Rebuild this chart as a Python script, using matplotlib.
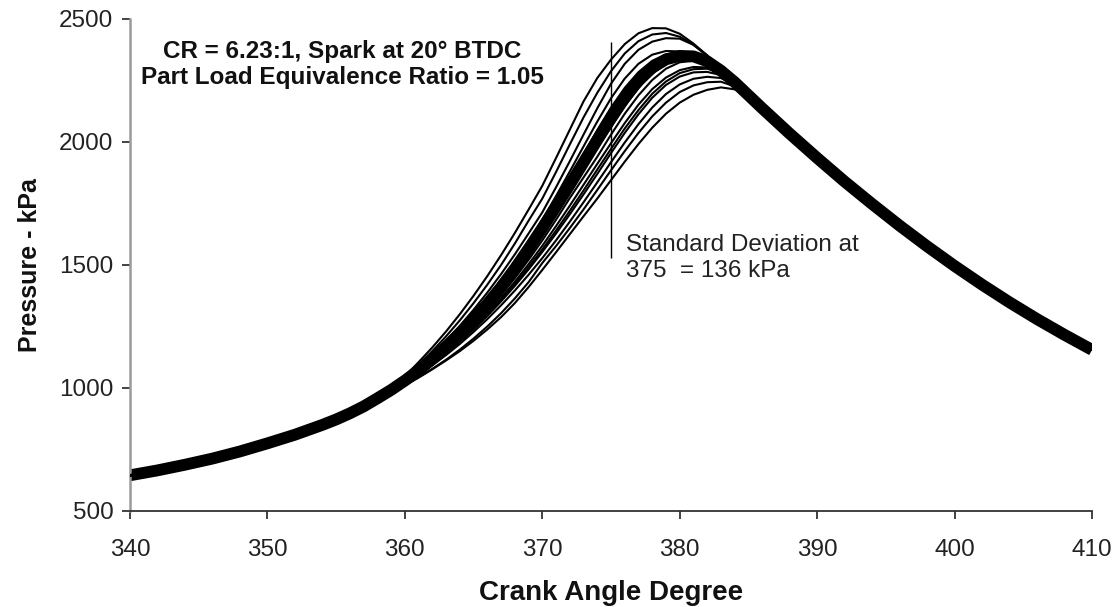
import matplotlib
matplotlib.use("Agg")
import matplotlib.pyplot as plt

# ---------------- data ----------------
angles_compression = [340, 342, 344, 346, 348, 350, 352, 354, 355, 356, 357]
p_compression = [645, 665, 688, 713, 742, 775, 810, 850, 872, 897, 925]

angles_combustion = [358, 359, 360, 361, 362, 363, 364, 365, 366, 367,
                     368, 369, 370, 371, 372, 373, 374, 375, 376, 377,
                     378, 379, 380, 381, 382, 383, 384, 385, 386]

p_cycle01 = [966, 1005, 1048, 1105, 1165, 1230, 1300, 1375, 1455, 1540, 1630, 1725, 1822, 1935, 2050,
             2165, 2260, 2335, 2398, 2442, 2463, 2462, 2440, 2400, 2352, 2298, 2245, 2190, 2137]
p_cycle02 = [964, 1002, 1042, 1095, 1150, 1210, 1275, 1345, 1420, 1500, 1587, 1680, 1770, 1878, 1990,
             2100, 2200, 2288, 2360, 2410, 2437, 2443, 2428, 2395, 2350, 2297, 2245, 2190, 2137]
p_cycle03 = [962, 999, 1038, 1088, 1138, 1193, 1253, 1318, 1388, 1463, 1543, 1628, 1714, 1816, 1922,
             2030, 2137, 2237, 2318, 2375, 2408, 2422, 2420, 2395, 2352, 2298, 2245, 2190, 2137]
p_cycle04 = [961, 996, 1034, 1076, 1122, 1172, 1228, 1289, 1356, 1429, 1508, 1593, 1684, 1780, 1880,
             1982, 2083, 2178, 2258, 2318, 2355, 2370, 2368, 2352, 2330, 2292, 2244, 2190, 2137]
p_cycle05 = [961, 998, 1038, 1082, 1130, 1182, 1240, 1302, 1368, 1438, 1512, 1590, 1672, 1760, 1852,
             1948, 2045, 2135, 2215, 2280, 2327, 2355, 2364, 2356, 2332, 2292, 2244, 2190, 2137]
p_cycle06 = [960, 994, 1032, 1073, 1118, 1168, 1222, 1282, 1347, 1417, 1493, 1575, 1663, 1756, 1853,
             1951, 2048, 2140, 2220, 2284, 2330, 2356, 2362, 2352, 2330, 2292, 2244, 2190, 2137]
p_cycle07 = [958, 992, 1030, 1072, 1118, 1168, 1222, 1280, 1342, 1410, 1485, 1566, 1650, 1737, 1826,
             1917, 2008, 2098, 2180, 2250, 2302, 2336, 2350, 2348, 2328, 2290, 2243, 2190, 2137]
p_cycle08 = [957, 989, 1025, 1065, 1108, 1156, 1208, 1266, 1330, 1400, 1476, 1558, 1645, 1735, 1826,
             1915, 2000, 2080, 2160, 2232, 2290, 2330, 2352, 2358, 2340, 2298, 2246, 2190, 2137]
p_cycle09 = [958, 990, 1026, 1066, 1110, 1157, 1209, 1265, 1326, 1392, 1463, 1540, 1623, 1711, 1800,
             1890, 1977, 2060, 2145, 2220, 2278, 2318, 2340, 2342, 2326, 2290, 2243, 2190, 2137]
p_cycle10 = [957, 988, 1023, 1062, 1104, 1150, 1200, 1255, 1314, 1378, 1447, 1521, 1600, 1684, 1772,
             1856, 1940, 2030, 2115, 2190, 2252, 2298, 2324, 2330, 2318, 2287, 2242, 2190, 2137]
p_cycle11 = [956, 987, 1021, 1059, 1100, 1145, 1194, 1247, 1304, 1366, 1432, 1503, 1578, 1658, 1741,
             1826, 1911, 1995, 2077, 2152, 2215, 2262, 2292, 2305, 2303, 2282, 2240, 2190, 2137]
p_cycle12 = [956, 986, 1020, 1058, 1099, 1143, 1191, 1243, 1299, 1359, 1423, 1491, 1563, 1640, 1720,
             1803, 1888, 1972, 2055, 2130, 2196, 2246, 2280, 2296, 2298, 2280, 2240, 2190, 2137]
p_cycle13 = [955, 985, 1019, 1056, 1096, 1140, 1187, 1238, 1293, 1352, 1415, 1482, 1553, 1628, 1706,
             1787, 1870, 1955, 2037, 2113, 2180, 2232, 2266, 2283, 2285, 2272, 2237, 2190, 2137]
p_cycle14 = [954, 984, 1017, 1053, 1092, 1134, 1179, 1228, 1280, 1336, 1396, 1460, 1528, 1600, 1676,
             1755, 1836, 1918, 1998, 2073, 2140, 2195, 2234, 2257, 2265, 2260, 2232, 2190, 2137]
p_cycle15 = [953, 983, 1012, 1044, 1078, 1115, 1156, 1201, 1250, 1304, 1364, 1430, 1508, 1577, 1650,
             1726, 1805, 1885, 1963, 2037, 2104, 2160, 2203, 2230, 2243, 2245, 2226, 2190, 2137]
p_cycle16 = [953, 982, 1010, 1042, 1076, 1112, 1150, 1192, 1238, 1288, 1345, 1410, 1480, 1552, 1625,
             1698, 1770, 1845, 1920, 1992, 2058, 2115, 2160, 2192, 2212, 2222, 2214, 2190, 2137]

angles_expansion = [388, 390, 392, 394, 396, 398, 400, 402, 404, 406, 408, 410]
p_expansion = [2034, 1935, 1839, 1748, 1660, 1576, 1496, 1420, 1348, 1280, 1216, 1155]

cycles = [p_cycle01, p_cycle02, p_cycle03, p_cycle04, p_cycle05, p_cycle06, p_cycle07, p_cycle08,
          p_cycle09, p_cycle10, p_cycle11, p_cycle12, p_cycle13, p_cycle14, p_cycle15, p_cycle16]
mean_cycle = p_cycle07

sd_angle = 375
sd_line_range = [1529, 2406]

x_ticks = [340, 350, 360, 370, 380, 390, 400, 410]
y_ticks = [500, 1000, 1500, 2000, 2500]

# ---------------- plot ----------------
plt.rcParams['font.family'] = ['Liberation Sans', 'DejaVu Sans']

fig = plt.figure(figsize=(11.15, 6.07), dpi=100)
ax = fig.add_axes([0.1166, 0.1582, 0.8628, 0.8105])

full_angles = angles_compression + angles_combustion + angles_expansion

# mean cycle drawn as a heavy band (dense markers in the original)
ax.plot(full_angles, p_compression + mean_cycle + p_expansion, color='black', lw=8.5,
        solid_capstyle='butt', solid_joinstyle='round', zorder=2)
for cyc in cycles:
    ax.plot(full_angles, p_compression + cyc + p_expansion, color='black', lw=1.5, zorder=3)

ax.vlines(sd_angle, sd_line_range[0], sd_line_range[1], color='black', lw=1.0, zorder=4)

ax.set_xlim(340, 410)
ax.set_ylim(500, 2500)
ax.set_xticks(x_ticks)
ax.set_yticks(y_ticks)
ax.tick_params(axis='both', direction='out', length=6, width=1.2, labelsize=17.5,
               colors='#222222', pad=6)
ax.tick_params(axis='x', pad=14)

for s in ['top', 'right']:
    ax.spines[s].set_visible(False)
ax.spines['left'].set_color('#9a9a9a')
ax.spines['left'].set_linewidth(1.8)
ax.spines['bottom'].set_color('#333333')
ax.spines['bottom'].set_linewidth(1.3)

ax.set_xlabel('Crank Angle Degree', fontsize=20, fontweight='bold', labelpad=14, color='#111111')
ax.set_ylabel('Pressure - kPa', fontsize=18, fontweight='bold', labelpad=12, color='#111111')

ax.text(0.221, 0.958, 'CR = 6.23:1, Spark at 20° BTDC\nPart Load Equivalence Ratio = 1.05',
        transform=ax.transAxes, ha='center', va='top', fontsize=17.5, fontweight='bold',
        linespacing=1.2, color='#111111')
ax.text(0.5156, 0.562, 'Standard Deviation at\n375  = 136 kPa', transform=ax.transAxes,
        ha='left', va='top', fontsize=17.5, linespacing=1.2, color='#222222')

fig.savefig('out.png', dpi=100)
